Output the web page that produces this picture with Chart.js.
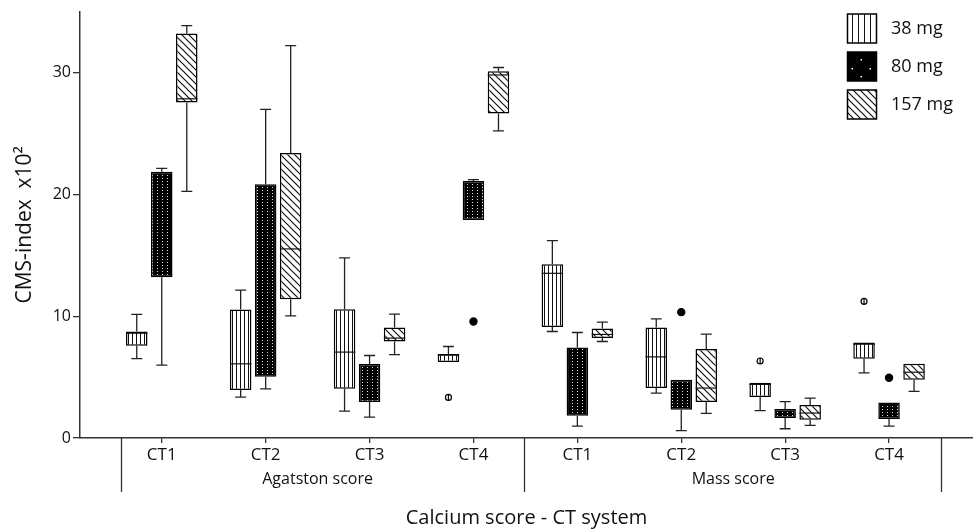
<!DOCTYPE html>
<html>
<head>
<meta charset="utf-8">
<script src="https://cdn.jsdelivr.net/npm/chart.js@4.4.1/dist/chart.umd.min.js"></script>
<style>
  html, body { margin: 0; padding: 0; background: #fff; }
  #wrap { width: 973px; height: 530px; }
</style>
</head>
<body>
<div id="wrap"><canvas id="boxChart" width="973" height="530"></canvas></div>
<script>
// Categories (x positions 0..7) and groups
const categories = ['CT1', 'CT2', 'CT3', 'CT4', 'CT1', 'CT2', 'CT3', 'CT4'];
const groupNames = ['Agatston score', 'Mass score'];
const groupCenters = [1.5, 5.5];
const separatorsAt = [-0.39, 3.49, 7.5];
const seriesNames = ['38 mg', '80 mg', '157 mg'];
const yTicks = [0, 10, 20, 30];

// 38 mg
const min38 = [6.52, 3.36, 2.21, 6.23, 8.74, 3.69, 2.24, 5.35];
const q1_38 = [7.57, 3.93, 4.04, 6.23, 9.12, 4.10, 3.36, 6.50];
const med38 = [8.60, 6.09, 7.05, 6.80, 13.52, 6.66, 4.40, 7.70];
const q3_38 = [8.74, 10.54, 10.57, 6.89, 14.26, 9.07, 4.53, 7.84];
const max38 = [10.15, 12.13, 14.78, 7.51, 16.20, 9.78, 4.53, 7.84];
const out38 = [[], [], [], [3.33], [], [], [6.32], [11.22]];

// 80 mg
const min80 = [5.98, 4.04, 1.72, 17.89, 0.98, 0.60, 0.76, 0.98];
const q1_80 = [13.20, 5.02, 2.95, 17.89, 1.83, 2.32, 1.64, 1.56];
const med80 = [21.70, 12.00, 4.50, 20.90, 4.50, 3.50, 2.00, 2.20];
const q3_80 = [21.85, 20.82, 6.07, 21.09, 7.43, 4.78, 2.38, 2.92];
const max80 = [22.13, 26.97, 6.77, 21.20, 8.66, 4.78, 2.98, 2.92];
const out80 = [[], [], [], [9.56], [], [10.33], [], [4.94]];

// 157 mg
const min157 = [20.25, 10.02, 6.85, 25.21, 7.92, 2.02, 1.03, 3.82];
const q1_157 = [27.54, 11.39, 7.92, 26.64, 8.20, 2.95, 1.50, 4.78];
const med157 = [27.84, 15.52, 8.20, 29.80, 8.50, 4.10, 2.05, 5.40];
const q3_157 = [33.20, 23.39, 9.07, 30.10, 8.98, 7.30, 2.70, 6.09];
const max157 = [33.85, 32.21, 10.16, 30.41, 9.51, 8.52, 3.28, 6.09];
const out157 = [[], [], [], [], [], [], [], []];

const FONT = "'Open Sans', 'Noto Sans', sans-serif";

// Fill patterns
function makePattern(kind, step) {
    const c = document.createElement('canvas');
    const g = c.getContext('2d');
    if (kind === 'vertical') {
        c.width = step; c.height = 4;
        g.fillStyle = '#fff'; g.fillRect(0, 0, step, 4);
        g.fillStyle = '#111'; g.fillRect(0, 0, 1, 4);
    } else if (kind === 'dots') {
        c.width = 5; c.height = 3;
        g.fillStyle = '#000'; g.fillRect(0, 0, 5, 3);
        g.fillStyle = '#e4e4e4'; g.fillRect(2, 1, 1, 1);
    } else {
        c.width = step; c.height = step;
        g.fillStyle = '#fff'; g.fillRect(0, 0, step, step);
        g.strokeStyle = '#111'; g.lineWidth = 1.2;
        g.beginPath();
        g.moveTo(0, 0); g.lineTo(step, step);
        g.moveTo(-2, step - 2); g.lineTo(2, step + 2);
        g.moveTo(step - 2, -2); g.lineTo(step + 2, 2);
        g.stroke();
    }
    return document.createElement('canvas').getContext('2d').createPattern(c, 'repeat');
}

const fills = [makePattern('vertical', 4), makePattern('dots'), makePattern('diag', 7)];
const legendFills = [makePattern('vertical', 6), '#000', makePattern('diag', 7)];

const series = [
    { q1: q1_38, q3: q3_38, min: min38, med: med38, max: max38, out: out38 },
    { q1: q1_80, q3: q3_80, min: min80, med: med80, max: max80, out: out80 },
    { q1: q1_157, q3: q3_157, min: min157, med: med157, max: max157, out: out157 }
];

// Whiskers, medians and outliers drawn on top of the floating bars
const boxParts = {
    id: 'boxParts',
    afterDatasetsDraw(chart) {
        const { ctx } = chart;
        const ys = chart.scales.y;
        ctx.save();
        series.forEach((s, d) => {
            const meta = chart.getDatasetMeta(d);
            meta.data.forEach((bar, i) => {
                const x = bar.x;
                const half = bar.width / 2;
                ctx.strokeStyle = '#222';
                ctx.lineWidth = 1.3;
                ctx.beginPath();
                if (s.max[i] > s.q3[i]) {
                    ctx.moveTo(x, ys.getPixelForValue(s.q3[i]));
                    ctx.lineTo(x, ys.getPixelForValue(s.max[i]));
                    ctx.moveTo(x - 5.5, ys.getPixelForValue(s.max[i]));
                    ctx.lineTo(x + 5.5, ys.getPixelForValue(s.max[i]));
                }
                if (s.min[i] < s.q1[i]) {
                    ctx.moveTo(x, ys.getPixelForValue(s.q1[i]));
                    ctx.lineTo(x, ys.getPixelForValue(s.min[i]));
                    ctx.moveTo(x - 5.5, ys.getPixelForValue(s.min[i]));
                    ctx.lineTo(x + 5.5, ys.getPixelForValue(s.min[i]));
                }
                ctx.stroke();
                if (d !== 1) {
                    ctx.strokeStyle = '#111';
                    ctx.lineWidth = 1.2;
                    ctx.beginPath();
                    ctx.moveTo(x - half, ys.getPixelForValue(s.med[i]));
                    ctx.lineTo(x + half, ys.getPixelForValue(s.med[i]));
                    ctx.stroke();
                }
                s.out[i].forEach(v => {
                    const py = ys.getPixelForValue(v);
                    ctx.beginPath();
                    ctx.arc(x, py, d === 1 ? 3.6 : 3, 0, Math.PI * 2);
                    ctx.fillStyle = d === 1 ? '#000' : '#fff';
                    ctx.fill();
                    ctx.lineWidth = 1.2;
                    ctx.strokeStyle = '#000';
                    ctx.stroke();
                    if (d === 0) {
                        ctx.beginPath();
                        ctx.moveTo(x, py - 3);
                        ctx.lineTo(x, py + 3);
                        ctx.stroke();
                    }
                });
            });
        });
        ctx.restore();
    }
};

// Group labels, separators and legend
const decorations = {
    id: 'decorations',
    afterDraw(chart) {
        const { ctx, chartArea } = chart;
        const xs = chart.scales.x;
        ctx.save();
        ctx.strokeStyle = '#333';
        ctx.lineWidth = 1.3;
        separatorsAt.forEach(v => {
            const px = Math.round(xs.getPixelForValue(v)) + 0.5;
            ctx.beginPath();
            ctx.moveTo(px, chartArea.bottom);
            ctx.lineTo(px, 492);
            ctx.stroke();
        });
        ctx.fillStyle = '#111';
        ctx.font = '16px ' + FONT;
        ctx.textAlign = 'center';
        ctx.textBaseline = 'middle';
        groupNames.forEach((name, k) => {
            ctx.fillText(name, xs.getPixelForValue(groupCenters[k]), 479);
        });

        // legend
        seriesNames.forEach((name, k) => {
            const lx = 847.5, ly = 14 + k * 38;
            ctx.fillStyle = legendFills[k];
            ctx.fillRect(lx, ly, 29, 29);
            if (k === 1) {
                ctx.fillStyle = '#fff';
                [[13, 7], [4, 16], [22, 16], [13, 24]].forEach(p => ctx.fillRect(lx + p[0], ly + p[1], 1.5, 1.5));
            }
            ctx.strokeStyle = '#000';
            ctx.lineWidth = 1.5;
            ctx.strokeRect(lx, ly, 29, 29);
            ctx.fillStyle = '#111';
            ctx.font = '18px ' + FONT;
            ctx.textAlign = 'left';
            ctx.fillText(name, 891, ly + 15);
        });
        ctx.restore();
    }
};

const datasets = series.map((s, d) => ({
    label: seriesNames[d],
    data: categories.map((c, i) => ({ x: i, y: [s.q1[i], s.q3[i]] })),
    backgroundColor: fills[d],
    borderColor: '#000',
    borderWidth: 1.5,
    borderSkipped: false,
    categoryPercentage: 0.722,
    barPercentage: 0.86
}));

new Chart(document.getElementById('boxChart'), {
    type: 'bar',
    data: { datasets },
    options: {
        responsive: false,
        animation: false,
        layout: { padding: { top: 11, right: 0, bottom: 0, left: 0 } },
        plugins: { legend: { display: false }, tooltip: { enabled: false } },
        scales: {
            x: {
                type: 'linear',
                offset: false,
                min: -0.787,
                max: 7.808,
                afterBuildTicks(scale) { scale.ticks = categories.map((c, i) => ({ value: i })); },
                afterFit(scale) { scale.height = 92; },
                ticks: {
                    callback: (v) => categories[v],
                    color: '#111',
                    font: { family: FONT, size: 17 },
                    padding: 2,
                    maxRotation: 0,
                    autoSkip: false
                },
                grid: { offset: false, drawOnChartArea: false, tickLength: 5, color: '#333', lineWidth: 1.3 },
                border: { color: '#333', width: 1.5 },
                title: {
                    display: true,
                    text: 'Calcium score - CT system',
                    color: '#111',
                    font: { family: FONT, size: 20, lineHeight: 1 },
                    padding: { top: 0, bottom: 2 }
                }
            },
            y: {
                min: 0,
                max: 35,
                afterBuildTicks(scale) { scale.ticks = yTicks.map(v => ({ value: v })); },
                afterFit(scale) { scale.width = 80; },
                ticks: {
                    color: '#111',
                    font: { family: FONT, size: 16 },
                    padding: 2
                },
                grid: { drawOnChartArea: false, tickLength: 7, color: '#333', lineWidth: 1.3 },
                border: { color: '#333', width: 1.5 },
                title: {
                    display: true,
                    text: 'CMS-index  x10\u00B2',
                    color: '#111',
                    font: { family: FONT, size: 21, lineHeight: 1 },
                    padding: { top: 15, bottom: 0 }
                }
            }
        }
    },
    plugins: [boxParts, decorations]
});
</script>
</body>
</html>
